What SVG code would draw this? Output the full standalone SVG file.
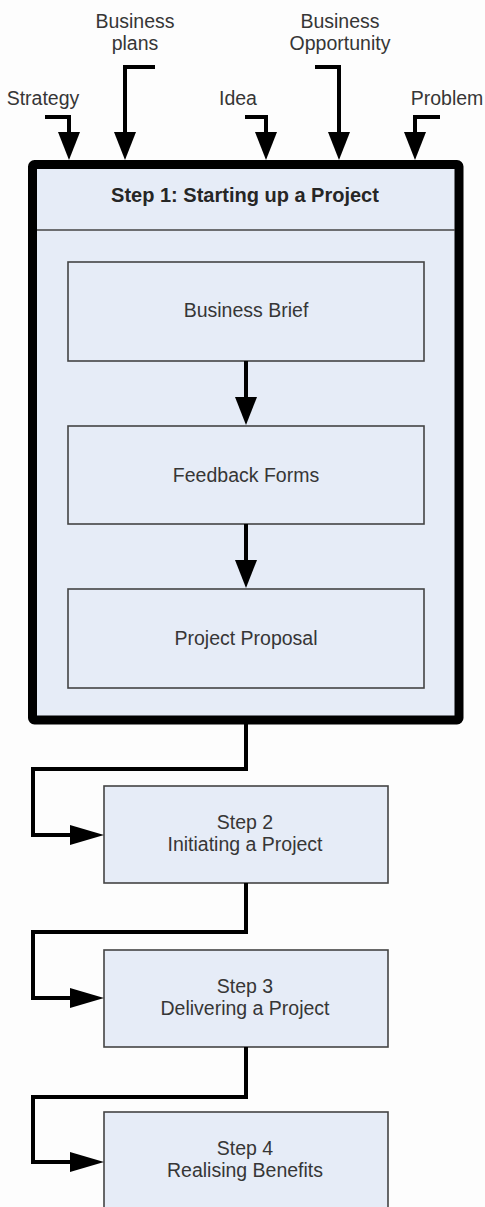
<svg xmlns="http://www.w3.org/2000/svg" width="485" height="1207" viewBox="0 0 485 1207">
<style>
  .lbl { font-family: "Liberation Sans", Arial, sans-serif; font-size: 19.5px; fill: #363636; text-anchor: middle; }
  .hdr { font-family: "Liberation Sans", Arial, sans-serif; font-size: 20px; font-weight: bold; fill: #262626; text-anchor: middle; }
  .box { fill: #E6ECF7; stroke: #444444; stroke-width: 1.6; }
  .wire { fill: none; stroke: #000000; stroke-width: 4; stroke-linejoin: miter; }
</style>
<defs>
  <marker id="ahv" markerUnits="userSpaceOnUse" markerWidth="28" markerHeight="22" refX="8" refY="11" orient="auto" viewBox="0 0 28 22">
    <path d="M0,0 L28,11 L0,22 Z" fill="#000"/>
  </marker>
  <marker id="ahh" markerUnits="userSpaceOnUse" markerWidth="34" markerHeight="20" refX="10" refY="10" orient="auto" viewBox="0 0 34 20">
    <path d="M0,0 L34,10 L0,20 Z" fill="#000"/>
  </marker>
</defs>
<rect x="0" y="0" width="485" height="1207" fill="#FDFDFD"/>

<g id="step1">
  <rect x="32.5" y="164.5" width="426.5" height="555.5" rx="2" fill="#E6ECF7" stroke="#000" stroke-width="9"/>
  <line x1="37" y1="230" x2="455" y2="230" stroke="#444444" stroke-width="1.6"/>
  <text class="hdr" x="245" y="202">Step 1: Starting up a Project</text>
</g>

<g id="business-brief">
  <rect class="box" x="68" y="262" width="356" height="99"/>
  <text class="lbl" x="246" y="317">Business Brief</text>
</g>
<g id="feedback-forms">
  <rect class="box" x="68" y="426" width="356" height="98"/>
  <text class="lbl" x="246" y="482">Feedback Forms</text>
</g>
<g id="project-proposal">
  <rect class="box" x="68" y="589" width="356" height="99"/>
  <text class="lbl" x="246" y="645">Project Proposal</text>
</g>

<g id="step2">
  <rect class="box" x="104" y="786" width="284" height="97"/>
  <text class="lbl" x="245" y="829">Step 2</text>
  <text class="lbl" x="245" y="851">Initiating a Project</text>
</g>
<g id="step3">
  <rect class="box" x="104" y="950" width="284" height="97"/>
  <text class="lbl" x="245" y="993">Step 3</text>
  <text class="lbl" x="245" y="1015">Delivering a Project</text>
</g>
<g id="step4">
  <rect class="box" x="104" y="1112" width="284" height="100"/>
  <text class="lbl" x="245" y="1155">Step 4</text>
  <text class="lbl" x="245" y="1177">Realising Benefits</text>
</g>

<g id="input-labels">
  <text class="lbl" x="43" y="105">Strategy</text>
  <text class="lbl" x="135" y="28">Business</text>
  <text class="lbl" x="135" y="50">plans</text>
  <text class="lbl" x="238" y="105">Idea</text>
  <text class="lbl" x="340" y="28">Business</text>
  <text class="lbl" x="340" y="50">Opportunity</text>
  <text class="lbl" x="447" y="105">Problem</text>
</g>

<g id="connectors">
  <path class="wire" d="M45,117 H69 V140" marker-end="url(#ahv)"/>
  <path class="wire" d="M155,67 H125 V140" marker-end="url(#ahv)"/>
  <path class="wire" d="M245,117 H266 V140" marker-end="url(#ahv)"/>
  <path class="wire" d="M315,67 H339 V140" marker-end="url(#ahv)"/>
  <path class="wire" d="M440,117 H415 V140" marker-end="url(#ahv)"/>
  <path class="wire" d="M246,361 V405" marker-end="url(#ahv)"/>
  <path class="wire" d="M246,524 V568" marker-end="url(#ahv)"/>
  <path class="wire" d="M246,724 V769 H33 V835 H80" marker-end="url(#ahh)"/>
  <path class="wire" d="M246,883 V932 H33 V998 H80" marker-end="url(#ahh)"/>
  <path class="wire" d="M246,1047 V1097 H33 V1162 H80" marker-end="url(#ahh)"/>
</g>
</svg>
